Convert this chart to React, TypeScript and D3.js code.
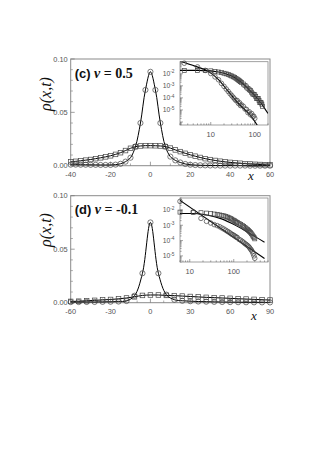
import * as d3 from "d3";

// ---- panel (c), nu = 0.5 : main linear plot ----
const xC = [-40, -37.5, -35, -32.5, -30, -27.5, -25, -22.5, -20, -17.5, -15, -12.5, -10, -7.5, -5, -2.5, 0, 2.5, 5, 7.5, 10, 12.5, 15, 17.5, 20, 22.5, 25, 27.5, 30, 32.5, 35, 37.5, 40, 42.5, 45, 47.5, 50, 52.5, 55, 57.5, 60];
const circC = [0.001, 0.001, 0.0009, 0.0009, 0.0008, 0.0008, 0.0007, 0.0007, 0.0007, 0.001, 0.0018, 0.0038, 0.0075, 0.018, 0.04, 0.071, 0.088, 0.071, 0.04, 0.018, 0.0085, 0.005, 0.003, 0.0016, 0.0009, 0.0006, 0.0004, 0.0003, 0.0002, 0.0002, 0.0001, 0.0001, 0.0001, 0.0001, 0.0001, 0.0001, 0, 0, 0, 0, 0];
const sqC = [0.0037, 0.0041, 0.0046, 0.0052, 0.0058, 0.0066, 0.0074, 0.0083, 0.0093, 0.0106, 0.0122, 0.0142, 0.0163, 0.0178, 0.0185, 0.0188, 0.0188, 0.0187, 0.0185, 0.0179, 0.0165, 0.0148, 0.0132, 0.0116, 0.0102, 0.0089, 0.0077, 0.0066, 0.0057, 0.0049, 0.0042, 0.0036, 0.0031, 0.0027, 0.0023, 0.0019, 0.0016, 0.0013, 0.0011, 0.0009, 0.0008];
const xTicksC = [-40, -20, 0, 20, 40, 60];
const xMinorC = [-30, -10, 10, 30, 50];

// ---- panel (c) inset, log-log ----
const insCX = [2.5, 5, 7.5, 10, 12.5, 15, 17.5, 20, 22.5, 25, 27.5, 30, 32.5, 35, 37.5, 40, 42.5, 45, 47.5, 50, 55, 60, 65, 70, 75, 80, 85, 90, 95, 100, 105, 110, 115, 120, 125, 130, 135, 140, 145, 150];
const insCSq = [0.019, 0.019, 0.0185, 0.0175, 0.0158, 0.014, 0.0125, 0.011, 0.0098, 0.0087, 0.0075, 0.0065, 0.0056, 0.0048, 0.0041, 0.0035, 0.003, 0.0026, 0.0022, 0.0019, 0.0014, 0.00105, 0.0008, 0.0006, 0.00047, 0.00042, 0.0003, 0.00021, 0.00019, 0.00018, 0.00013, 0.00009, 0.00009, 0.00009, 0.00006, 0.00004, 0.000043, 0.00004, 0.00003, 0.00002];
const insCCirc = [0.075, 0.037, 0.019, 0.0105, 0.0055, 0.0032, 0.0016, 0.0009, 0.00054, 0.00034, 0.00022, 0.000155, 0.00011, 0.00008, 0.00006, 0.00006, 0.000035, 0.00004, 0.000023, 0.000026, 0.00002, 0.000012, 0.000011, 0.000006, 0.000007, 0.000004, 0.000005, 0.000003, 0.000003, 0.000002];
const fitCSqX = [2, 5, 10, 15, 20, 30, 50, 70, 100, 140, 200];
const fitCSqY = [0.019, 0.019, 0.0175, 0.014, 0.011, 0.0065, 0.0019, 0.0006, 0.00016, 0.000035, 0.000005];
const fitCCircX = [2, 4.5, 9, 15, 25, 42, 84, 120];
const fitCCircY = [0.11, 0.041, 0.015, 0.0032, 0.00034, 0.000036, 0.0000028, 0.0000004];

// ---- panel (d), nu = -0.1 ----
const xD = [-60, -54, -48, -42, -36, -30, -24, -18, -12, -6, 0, 6, 12, 18, 24, 30, 36, 42, 48, 54, 60, 66, 72, 78, 84, 90];
const circD = [0.0006, 0.0006, 0.0007, 0.0007, 0.0008, 0.0009, 0.0011, 0.0016, 0.0065, 0.0275, 0.075, 0.0275, 0.0075, 0.0028, 0.0018, 0.0014, 0.0011, 0.00095, 0.0008, 0.00066, 0.00056, 0.00047, 0.0004, 0.00035, 0.0003, 0.00026];
const sqD = [0.0012, 0.0014, 0.0018, 0.0022, 0.0026, 0.003, 0.0036, 0.0044, 0.0055, 0.0068, 0.0072, 0.0072, 0.0068, 0.0066, 0.0062, 0.0058, 0.0054, 0.005, 0.0047, 0.0044, 0.0041, 0.0037, 0.0034, 0.0031, 0.0028, 0.0025];
const xTicksD = [-60, -30, 0, 30, 60, 90];
const xMinorD = [-50, -40, -20, -10, 10, 20, 40, 50, 70, 80];

// ---- panel (d) inset ----
const insDX = [6, 12, 18, 24, 30, 36, 42, 48, 54, 60, 66, 72, 78, 84, 90, 96, 102, 108, 114, 120, 132, 144, 156, 168, 180, 192, 204, 216, 228, 240, 252, 264, 276, 288, 300];
const insDCirc = [0.036, 0.0075, 0.0028, 0.0018, 0.0014, 0.0011, 0.00095, 0.0008, 0.00066, 0.00056, 0.00047, 0.0004, 0.00035, 0.0003, 0.00026, 0.00024, 0.00021, 0.00019, 0.000166, 0.00016, 0.00012, 0.000105, 0.000089, 0.000076, 0.000063, 0.000056, 0.000048, 0.000042, 0.000035, 0.000028, 0.000024, 0.000019, 0.000014, 0.00001, 0.000007];
const insDSq = [0.0072, 0.0068, 0.0066, 0.0062, 0.0058, 0.0054, 0.005, 0.0047, 0.0044, 0.0041, 0.0037, 0.0034, 0.0031, 0.0028, 0.0025, 0.0022, 0.002, 0.0018, 0.0016, 0.0015, 0.0013, 0.0011, 0.00095, 0.00082, 0.0007, 0.0006, 0.00052, 0.00045, 0.00039, 0.00033, 0.00028, 0.00023, 0.00019, 0.00016, 0.00013];
const fitDSqX = [6, 13, 26, 53, 107, 214, 500];
const fitDSqY = [0.0058, 0.0058, 0.0045, 0.0026, 0.00102, 0.00033, 0.000078];
const fitDCircX = [6, 500];
const fitDCircY = [0.042, 0.0000068];

const yTicksMain = [0, 0.05, 0.1];
const yMinorMain = [0.01, 0.02, 0.03, 0.04, 0.06, 0.07, 0.08, 0.09];
const insYLabels = [-2, -3, -4, -5];

const SANS = "'Liberation Sans', Arial, sans-serif";
const SERIF = "'Liberation Serif', 'Times New Roman', serif";
const FRAME = "#8a8a8a";
const TXT = "#555";
const MK = "#444";

type XY = [number, number];
const zip = (a: number[], b: number[]): XY[] => a.map((v, i) => [v, b[i]] as XY);

function Markers({ pts, sx, sy, shape, r }: any) {
  return (
    <g fill="none" stroke={MK} strokeWidth={0.7}>
      {pts.map(([x, y]: XY, i: number) =>
        shape === "c" ? (
          <circle key={i} cx={sx(x)} cy={sy(y)} r={r} />
        ) : (
          <rect key={i} x={sx(x) - r} y={sy(y) - r} width={2 * r} height={2 * r} />
        )
      )}
    </g>
  );
}

function Inset({ left, top, w, h, xDom, yDom, sq, circ, fitSq, fitCirc, id }: any) {
  const sx = d3.scaleLog().domain(xDom).range([left, left + w]);
  const sy = d3.scaleLog().domain(yDom).range([top + h, top]);
  const line = d3.line<XY>().x((d) => sx(d[0])).y((d) => sy(d[1])).curve(d3.curveMonotoneX);
  const xt = sx.ticks().filter((t) => t >= xDom[0] && t <= xDom[1]);
  const yt = sy.ticks().filter((t) => t >= yDom[0] && t <= yDom[1]);
  const isDecade = (t: number) => Math.abs(Math.log10(t) - Math.round(Math.log10(t))) < 1e-6;
  return (
    <g>
      <clipPath id={id}>
        <rect x={left} y={top} width={w} height={h} />
      </clipPath>
      <rect x={left} y={top} width={w} height={h} fill="white" stroke={FRAME} strokeWidth={0.8} />
      {xt.map((t, i) => (
        <line key={"x" + i} x1={sx(t)} x2={sx(t)} y1={top + h} y2={top + h - (isDecade(t) ? 3 : 1.6)} stroke="#666" strokeWidth={0.6} />
      ))}
      {yt.map((t, i) => (
        <line key={"y" + i} y1={sy(t)} y2={sy(t)} x1={left} x2={left + (isDecade(t) ? 3 : 1.6)} stroke="#666" strokeWidth={0.6} />
      ))}
      {xt.filter(isDecade).map((t, i) => (
        <text key={"xl" + i} x={sx(t)} y={top + h + 11.5} textAnchor="middle" fontSize={7.5} fontFamily={SANS} fill={TXT}>
          {t}
        </text>
      ))}
      {insYLabels.map((k) => (
        <text key={"yl" + k} x={left - 5.5} y={sy(Math.pow(10, k)) + 2.5} textAnchor="end" fontSize={6.8} fontFamily={SANS} fill={TXT}>
          10
          <tspan dy={-2.8} fontSize={4.8}>{String(k)}</tspan>
        </text>
      ))}
      <g clipPath={`url(#${id})`} fill="none" stroke="#000" strokeWidth={1.1}>
        <path d={line(fitSq) || ""} />
        <path d={line(fitCirc) || ""} />
      </g>
      <Markers pts={sq} sx={sx} sy={sy} shape="s" r={2} />
      <Markers pts={circ} sx={sx} sy={sy} shape="c" r={2.3} />
    </g>
  );
}

function Panel({ left, top, w, h, xDom, xTicks, xMinor, circ, sq, tag, nu, xlab, ylabY, children }: any) {
  const sx = d3.scaleLinear().domain(xDom).range([left, left + w]);
  const sy = d3.scaleLinear().domain([0, 0.1]).range([top + h, top]);
  const line = d3.line<XY>().x((d) => sx(d[0])).y((d) => sy(d[1])).curve(d3.curveCatmullRom.alpha(0.5));
  return (
    <g>
      <rect x={left} y={top} width={w} height={h} fill="none" stroke={FRAME} strokeWidth={1} />
      {xTicks.map((t: number) => (
        <g key={"xt" + t}>
          <line x1={sx(t)} x2={sx(t)} y1={top + h} y2={top + h - 4} stroke="#777" strokeWidth={0.7} />
          <text x={sx(t)} y={top + h + 11.5} textAnchor="middle" fontSize={7.4} fontFamily={SANS} fill={TXT}>
            {t}
          </text>
        </g>
      ))}
      {xMinor.map((t: number) => (
        <line key={"xm" + t} x1={sx(t)} x2={sx(t)} y1={top + h} y2={top + h - 2.2} stroke="#777" strokeWidth={0.6} />
      ))}
      {yTicksMain.map((t) => (
        <g key={"yt" + t}>
          <line x1={left} x2={left + 4} y1={sy(t)} y2={sy(t)} stroke="#777" strokeWidth={0.7} />
          <text x={left - 3} y={sy(t) + 2.5} textAnchor="end" fontSize={7.4} fontFamily={SANS} fill={TXT}>
            {t.toFixed(2)}
          </text>
        </g>
      ))}
      {yMinorMain.map((t) => (
        <line key={"ym" + t} x1={left} x2={left + 2.2} y1={sy(t)} y2={sy(t)} stroke="#777" strokeWidth={0.6} />
      ))}
      <g fill="none" stroke="#000" strokeWidth={1}>
        <path d={line(sq) || ""} />
        <path d={line(circ) || ""} />
      </g>
      <Markers pts={sq} sx={sx} sy={sy} shape="s" r={2.3} />
      <Markers pts={circ} sx={sx} sy={sy} shape="c" r={2.6} />
      <text x={left + 4} y={top + 18.5} fontSize={14} fontWeight="bold" fontFamily={SERIF} fill="#111">
        <tspan fontFamily={SANS} fontSize={13}>{tag}</tspan>
        <tspan fontStyle="italic"> ν</tspan>
        <tspan>{` = ${nu}`}</tspan>
      </text>
      <text
        transform={`translate(51,${ylabY}) rotate(-90)`}
        textAnchor="middle"
        fontSize={16}
        fontStyle="italic"
        fontFamily={SERIF}
        fill="#111"
      >
        ρ(x,t)
      </text>
      <text x={xlab[0]} y={xlab[1]} fontSize={13} fontStyle="italic" fontFamily={SERIF} fill="#111" textAnchor="middle">
        x
      </text>
      {children}
    </g>
  );
}

export default function App() {
  return (
    <div style={{ position: "absolute", left: 0, top: 0 }}>
      <svg width={313} height={449} style={{ display: "block", background: "white" }}>
        <Panel
          left={70.7}
          top={59}
          w={199.3}
          h={106.7}
          xDom={[-40, 60]}
          xTicks={xTicksC}
          xMinor={xMinorC}
          circ={zip(xC, circC)}
          sq={zip(xC, sqC)}
          tag="(c)"
          nu="0.5"
          xlab={[251, 180]}
          ylabY={94}
        >
          <Inset
            id="clipC"
            left={180}
            top={61.7}
            w={88}
            h={63.3}
            xDom={[2, 200]}
            yDom={[Math.pow(10, -6.25), 0.1]}
            sq={zip(insCX, insCSq)}
            circ={zip(insCX.slice(0, insCCirc.length), insCCirc)}
            fitSq={zip(fitCSqX, fitCSqY)}
            fitCirc={zip(fitCCircX, fitCCircY)}
          />
        </Panel>
        <Panel
          left={70.7}
          top={195.7}
          w={199.3}
          h={107}
          xDom={[-60, 90]}
          xTicks={xTicksD}
          xMinor={xMinorD}
          circ={zip(xD, circD)}
          sq={zip(xD, sqD)}
          tag="(d)"
          nu="-0.1"
          xlab={[254, 320]}
          ylabY={230}
        >
          <Inset
            id="clipD"
            left={180}
            top={198}
            w={88}
            h={64}
            xDom={[6, 600]}
            yDom={[4e-6, 0.06]}
            sq={zip(insDX, insDSq)}
            circ={zip(insDX, insDCirc)}
            fitSq={zip(fitDSqX, fitDSqY)}
            fitCirc={zip(fitDCircX, fitDCircY)}
          />
        </Panel>
      </svg>
    </div>
  );
}
